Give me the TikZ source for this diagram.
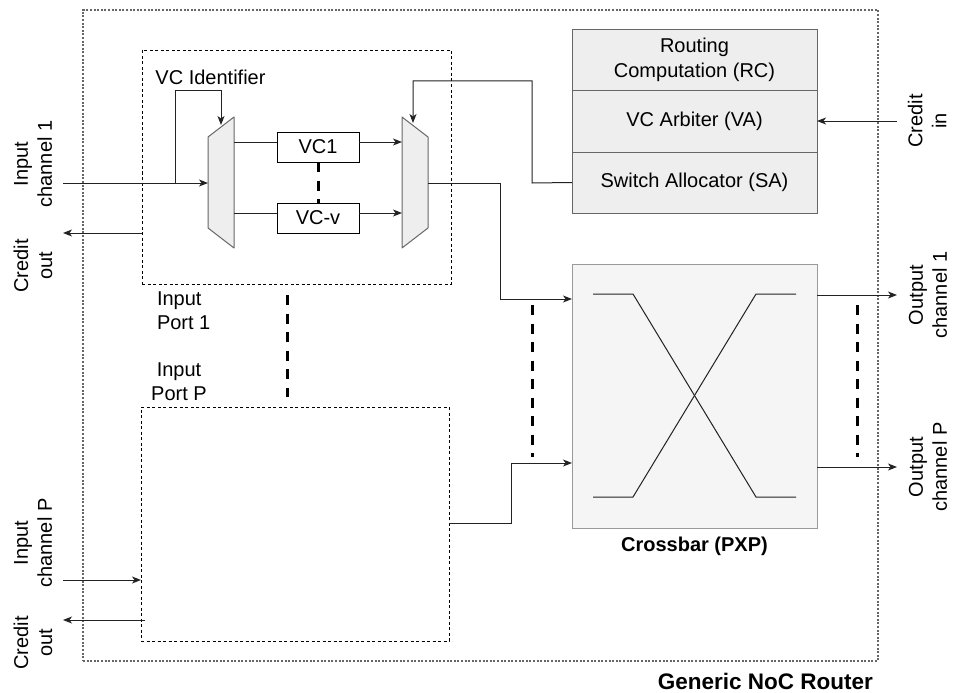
\documentclass[tikz,border=0pt]{standalone}
\usepackage{fontspec}
\setmainfont{Liberation Sans}
\usetikzlibrary{arrows.meta,calc}

\definecolor{blkfill}{HTML}{EEEEEE}
\definecolor{xbfill}{HTML}{F5F5F5}
\definecolor{edge}{HTML}{666666}
\definecolor{xbedge}{HTML}{9A9A9A}
\definecolor{wire}{HTML}{222222}

\begin{document}
\begin{tikzpicture}[x=1pt,y=-1pt,
  every node/.style={font=\fontsize{20}{24}\selectfont, inner sep=0pt, outer sep=0pt},
  wiring/.style={draw=wire, line width=1pt},
  arr/.style={wiring, -{Stealth[length=9pt,width=7pt,inset=2.5pt]}},
  stage/.style={draw=edge, fill=blkfill, line width=1pt, minimum width=245pt, minimum height=61pt},
  vcbox/.style={draw=black, fill=white, line width=1pt, minimum width=82pt, minimum height=30pt},
  portbox/.style={draw=black, line width=0.8pt, dash pattern=on 3pt off 2.5pt},
  routerbox/.style={draw=black!60, line width=1.2pt, dash pattern=on 2pt off 1.6pt},
  vdots/.style={draw=black, line width=3pt, dash pattern=on 10pt off 8.5pt},
  trap/.style={draw=edge, fill=blkfill, line width=1pt, line join=round},
  boldlbl/.style={font=\fontsize{20}{24}\selectfont\bfseries}
]
\useasboundingbox (0,0) rectangle (954,693);

% router outline and input ports
\node[routerbox, minimum width=795pt, minimum height=651pt] (router) at (480.5,335.5) {};
\node[portbox, minimum width=309pt, minimum height=234pt] (port1) at (296.5,167) {};
\node[portbox, minimum width=308pt, minimum height=234pt] (portP) at (295,524) {};

% pipeline stages
\node[stage] (RC) at (694.5,60.5) {\begin{tabular}{@{}c@{}}Routing\\[1pt]Computation (RC)\end{tabular}};
\node[stage] (VA) at (694.5,121.5) {VC Arbiter (VA)};
\node[stage] (SA) at (694.5,182.5) {Switch Allocator (SA)};

% crossbar
\node[draw=xbedge, fill=xbfill, line width=1pt, minimum width=245pt, minimum height=264pt] (xbar) at (694.5,396) {};
\draw[wiring] (593,294) -- (633,294) -- (756,497) -- (796,497);
\draw[wiring] (593,497) -- (633,497) -- (756,294) -- (796,294);
\node[boldlbl] (xblbl) at (694.5,546) {Crossbar (PXP)};

% demultiplexer and multiplexer
\draw[trap] (208,137) -- (234,117) -- (234,248) -- (208,228) -- cycle;
\draw[trap] (402,117) -- (428,137) -- (428,228) -- (402,248) -- cycle;
\coordinate (dmxin) at (208,183);
\coordinate (dmxo1) at (234,142);
\coordinate (dmxo2) at (234,213);
\coordinate (muxi1) at (402,142);
\coordinate (muxi2) at (402,213);
\coordinate (muxout) at (428,183);
\coordinate (dmxsel) at (221,125);
\coordinate (muxsel) at (413,123);

% virtual channel buffers
\node[vcbox] (VC1) at (318,147) {VC1};
\node[vcbox] (VCv) at (318,218) {VC-v};
\draw[vdots] (VC1.south) -- (VCv.north);

\draw[wiring] (dmxo1) -- (VC1.west|-dmxo1);
\draw[arr] (VC1.east|-dmxo1) -- (muxi1);
\draw[wiring] (dmxo2) -- (VCv.west|-dmxo2);
\draw[arr] (VCv.east|-dmxo2) -- (muxi2);

% input channel 1 and VC identifier
\coordinate (in1) at (63,183);
\coordinate (brk) at (175,183);
\draw[arr] (in1) -- (dmxin);
\draw[arr] (brk) -- (175,91) -- (221,91) -- (dmxsel);
\node (vcid) at (210.5,77) {VC Identifier};

% credit out of port 1
\coordinate (cout1) at (63,233);
\draw[arr] (port1.west|-cout1) -- (cout1);

% switch allocator to mux select
\coordinate (sabend) at (532,183);
\draw[arr] (SA.west) -- (sabend) -- (532,81) -- (413,81) -- (muxsel);

% mux output to crossbar
\coordinate (xin1) at (572,299);
\draw[arr] (muxout) -- (500,183) -- (500,299) -- (xin1);

% port P to crossbar
\coordinate (pPout) at (449,523);
\coordinate (xinP) at (572,463);
\draw[arr] (pPout) -- (511,523) -- (511,463) -- (xinP);

% input channel P and credit out
\coordinate (inP) at (63,580);
\coordinate (coutP) at (63,620);
\draw[arr] (inP) -- (portP.west|-inP);
\draw[arr] (145,620) -- (coutP);

% credit in
\coordinate (cin) at (897,121);
\draw[arr] (cin) -- (VA.east|-cin);

% output channels
\coordinate (o1) at (897,295);
\coordinate (oP) at (897,467);
\draw[arr] (xbar.east|-o1) -- (o1);
\draw[arr] (xbar.east|-oP) -- (oP);

% continuation marks
\draw[vdots] (287,295) -- (287,397);
\draw[vdots] (532,305) -- (532,457);
\draw[vdots] (857,305) -- (857,457);

% labels
\node[align=left, anchor=west] (p1lbl) at (157,310.5) {Input\\Port 1};
\node[align=center] (pPlbl) at (179,381.5) {Input\\Port P};
\node[rotate=90, align=center] (lin1) at (33,164) {Input\\channel 1};
\node[rotate=90, align=center] (lco1) at (33,266) {Credit\\out};
\node[rotate=90, align=center] (linP) at (33,543) {Input\\channel P};
\node[rotate=90, align=center] (lcoP) at (33,643) {Credit\\out};
\node[rotate=90, align=center] (lcin) at (927,121) {Credit\\in};
\node[rotate=90, align=center] (lo1) at (928,295) {Output\\channel 1};
\node[rotate=90, align=center] (loP) at (928,467) {Output\\channel P};
\node[font=\fontsize{22.5}{27}\selectfont\bfseries, anchor=east] (title) at (873,681) {Generic NoC Router};
\end{tikzpicture}
\end{document}
